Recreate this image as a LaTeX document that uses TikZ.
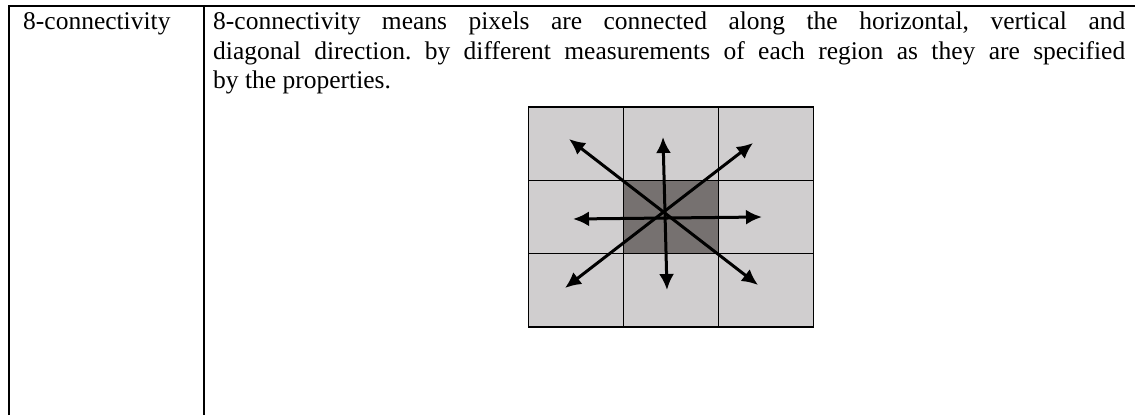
\documentclass[tikz,border=0pt]{standalone}
\usepackage{fontspec}
\setmainfont{Liberation Serif}
\usepackage{tikz}
\usetikzlibrary{arrows.meta,positioning}
\definecolor{cellgray}{HTML}{D0CECF}
\definecolor{ctrgray}{HTML}{767170}
\frenchspacing

\begin{document}
\begin{tikzpicture}[x=1pt, y=-1pt,
  rule/.style={line width=1.7pt},
  cell/.style={draw, line width=1pt, fill=cellgray, minimum width=94.7pt, minimum height=73.3pt, inner sep=0pt},
  biarrow/.style={line width=3pt, {Latex[length=16pt,width=15pt]}-{Latex[length=16pt,width=15pt]}},
  font=\fontsize{25.5}{29.5}\selectfont]
\useasboundingbox (0,0) rectangle (1135,415);

% table rules
\draw[rule] (9,415) -- (9,6) -- (1135,6);
\draw[rule] (204,6) -- (204,415);

\node[anchor=base west, inner sep=0pt] (term) at (23,29.5) {8-connectivity};
\node[anchor=base west, inner sep=0pt, text width=912pt, align=justify] (descr) at (213,29.5)
  {8-connectivity means pixels are connected along the horizontal, vertical and\linebreak
   diagonal direction. by different measurements of each region as they are specified\linebreak
   by the properties.};

% 3x3 pixel grid
\foreach \r in {0,1,2}
  \foreach \c in {0,1,2}
    \node[cell] (p\r\c) at (576.3+94.7*\c, 143.7+73.3*\r) {};
\node[cell, fill=ctrgray] at (p11) {};
\draw[line width=1.8pt] (p00.north west) rectangle (p22.south east);

\coordinate (nw) at (569,139);
\coordinate (n) at (663,137);
\coordinate (ne) at (753,143);
\coordinate (w) at (573,219);
\coordinate (e) at (762,217);
\coordinate (sw) at (565,288);
\coordinate (s) at (667,290);
\coordinate (se) at (758,285);
\draw[biarrow] (w) -- (e);
\draw[biarrow] (n) -- (s);
\draw[biarrow] (nw) -- (se);
\draw[biarrow] (ne) -- (sw);

\end{tikzpicture}
\end{document}
